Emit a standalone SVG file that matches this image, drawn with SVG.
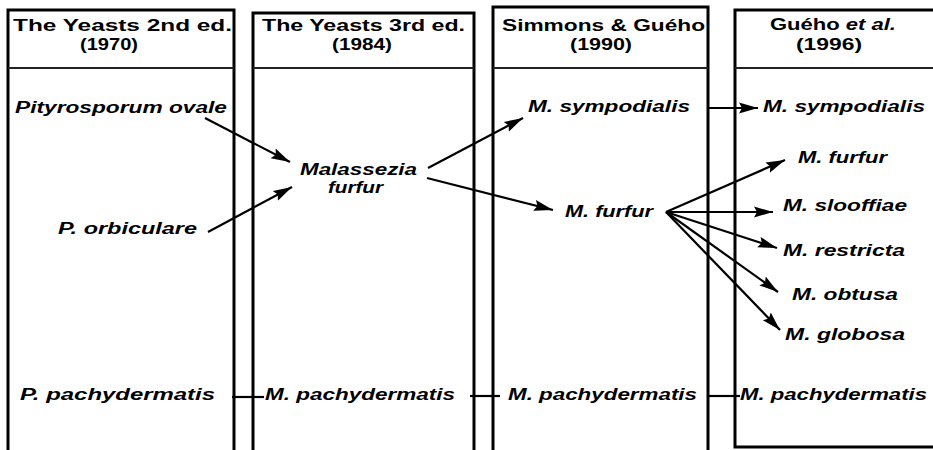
<svg xmlns="http://www.w3.org/2000/svg" width="933" height="450" viewBox="0 0 933 450">
  <style>
    .col { fill: none; stroke: #000; stroke-width: 3; }
    .div { stroke: #222; stroke-width: 2; }
    .hdr { font-family: "Liberation Sans", Arial, sans-serif; font-weight: bold; font-size: 16px; fill: #000; }
    .sp { font-family: "Liberation Sans", Arial, sans-serif; font-weight: bold; font-style: italic; font-size: 16px; fill: #000; }
    .link { stroke: #000; stroke-width: 2.2; fill: none; }
    .arrow { marker-end: url(#head); }
  </style>
  <defs>
    <marker id="head" markerUnits="userSpaceOnUse" markerWidth="20" markerHeight="12" refX="19" refY="6" orient="auto">
      <path d="M0,0.5 L19,6 L0,11.5 L3,6 z" fill="#000"/>
    </marker>
  </defs>
  <rect width="933" height="450" fill="#fff"/>

  <!-- column: The Yeasts 2nd ed. -->
  <g id="col-1970">
    <rect class="col" x="8" y="10" width="226" height="460"/>
    <line class="div" x1="8" y1="68" x2="234" y2="68"/>
    <text class="hdr" x="13" y="31" textLength="219" lengthAdjust="spacingAndGlyphs">The Yeasts  2nd ed.</text>
    <text class="hdr" x="109" y="50" text-anchor="middle" textLength="58" lengthAdjust="spacingAndGlyphs">(1970)</text>
  </g>
  <g id="n-pityrosporum-ovale"><text class="sp" x="15" y="113" textLength="212" lengthAdjust="spacingAndGlyphs">Pityrosporum ovale</text></g>
  <g id="n-p-orbiculare"><text class="sp" x="58" y="234" textLength="139" lengthAdjust="spacingAndGlyphs">P. orbiculare</text></g>
  <g id="n-p-pachydermatis"><text class="sp" x="20" y="400" textLength="195" lengthAdjust="spacingAndGlyphs">P. pachydermatis</text></g>

  <!-- column: The Yeasts 3rd ed. -->
  <g id="col-1984">
    <rect class="col" x="253" y="13" width="221" height="460"/>
    <line class="div" x1="253" y1="68" x2="474" y2="68"/>
    <text class="hdr" x="262" y="31" textLength="203" lengthAdjust="spacingAndGlyphs">The Yeasts 3rd ed.</text>
    <text class="hdr" x="362" y="50" text-anchor="middle" textLength="60" lengthAdjust="spacingAndGlyphs">(1984)</text>
  </g>
  <g id="n-malassezia-furfur">
    <text class="sp" x="300" y="175" textLength="117" lengthAdjust="spacingAndGlyphs">Malassezia</text>
    <text class="sp" x="328" y="193" textLength="55" lengthAdjust="spacingAndGlyphs">furfur</text>
  </g>
  <g id="n-m-pachydermatis-1984"><text class="sp" x="265" y="400" textLength="190" lengthAdjust="spacingAndGlyphs">M. pachydermatis</text></g>

  <!-- column: Simmons & Guého -->
  <g id="col-1990">
    <rect class="col" x="493" y="7" width="215" height="460"/>
    <line class="div" x1="493" y1="68" x2="708" y2="68"/>
    <text class="hdr" x="502" y="31" textLength="203" lengthAdjust="spacingAndGlyphs">Simmons &amp; Guého</text>
    <text class="hdr" x="601" y="50" text-anchor="middle" textLength="62" lengthAdjust="spacingAndGlyphs">(1990)</text>
  </g>
  <g id="n-m-sympodialis-1990"><text class="sp" x="528" y="112" textLength="162" lengthAdjust="spacingAndGlyphs">M. sympodialis</text></g>
  <g id="n-m-furfur-1990"><text class="sp" x="565" y="217" textLength="88" lengthAdjust="spacingAndGlyphs">M. furfur</text></g>
  <g id="n-m-pachydermatis-1990"><text class="sp" x="508" y="400" textLength="189" lengthAdjust="spacingAndGlyphs">M. pachydermatis</text></g>

  <!-- column: Guého et al. -->
  <g id="col-1996">
    <rect class="col" x="735" y="10" width="210" height="437"/>
    <line class="div" x1="735" y1="68" x2="933" y2="68"/>
    <text class="hdr" x="770" y="30" textLength="126" lengthAdjust="spacingAndGlyphs">Guého <tspan font-style="italic">et al.</tspan></text>
    <text class="hdr" x="829" y="50" text-anchor="middle" textLength="66" lengthAdjust="spacingAndGlyphs">(1996)</text>
  </g>
  <g id="n-m-sympodialis-1996"><text class="sp" x="763" y="112" textLength="162" lengthAdjust="spacingAndGlyphs">M. sympodialis</text></g>
  <g id="n-m-furfur-1996"><text class="sp" x="798" y="163" textLength="89" lengthAdjust="spacingAndGlyphs">M. furfur</text></g>
  <g id="n-m-slooffiae"><text class="sp" x="783" y="211" textLength="124" lengthAdjust="spacingAndGlyphs">M. slooffiae</text></g>
  <g id="n-m-restricta"><text class="sp" x="783" y="256" textLength="122" lengthAdjust="spacingAndGlyphs">M. restricta</text></g>
  <g id="n-m-obtusa"><text class="sp" x="792" y="300" textLength="106" lengthAdjust="spacingAndGlyphs">M. obtusa</text></g>
  <g id="n-m-globosa"><text class="sp" x="785" y="340" textLength="120" lengthAdjust="spacingAndGlyphs">M. globosa</text></g>
  <g id="n-m-pachydermatis-1996"><text class="sp" x="740" y="400" textLength="187" lengthAdjust="spacingAndGlyphs">M. pachydermatis</text></g>

  <!-- connectors -->
  <g id="connectors">
    <line class="link arrow" x1="205" y1="118" x2="290" y2="162"/>
    <line class="link arrow" x1="208" y1="232" x2="292" y2="187"/>
    <line class="link arrow" x1="428" y1="168" x2="523" y2="118"/>
    <line class="link arrow" x1="427" y1="178" x2="553" y2="210"/>
    <line class="link arrow" x1="708" y1="108" x2="758" y2="108"/>
    <line class="link arrow" x1="666" y1="212" x2="785" y2="160"/>
    <line class="link arrow" x1="666" y1="212" x2="773" y2="212"/>
    <line class="link arrow" x1="666" y1="212" x2="777" y2="248"/>
    <line class="link arrow" x1="666" y1="212" x2="778" y2="292"/>
    <line class="link arrow" x1="666" y1="212" x2="780" y2="330"/>
    <line class="link" x1="232" y1="397" x2="264" y2="397"/>
    <line class="link" x1="470" y1="396" x2="500" y2="396"/>
    <line class="link" x1="708" y1="396" x2="740" y2="396"/>
  </g>
</svg>
